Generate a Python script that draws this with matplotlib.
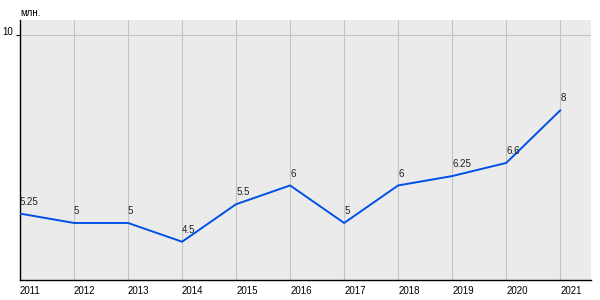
import matplotlib
matplotlib.use("Agg")
import matplotlib.pyplot as plt
import matplotlib.transforms as mtransforms

years = [2011, 2012, 2013, 2014, 2015, 2016, 2017, 2018, 2019, 2020, 2021]
values = [5.25, 5, 5, 4.5, 5.5, 6, 5, 6, 6.25, 6.6, 8]
ytick_vals = [10]
unit_label = "млн."

plt.rcParams['font.family'] = ['Liberation Sans', 'DejaVu Sans']

fig = plt.figure(figsize=(6, 3), dpi=100)
ax = fig.add_axes([20/600, 1 - 280/300, 571/600, 260/300])
ax.set_facecolor('#ebebeb')

ax.plot(years, values, color='#0050e6', lw=1.4, zorder=3)

ax.set_xlim(2011, 2021.57)
ax.set_ylim(3.48, 10.41)

ax.set_xticks(years)
ax.set_xticklabels([str(y) for y in years], fontsize=7, ha='left')
ax.tick_params(axis='x', length=0, pad=4)
ax.set_yticks(ytick_vals)
ax.set_yticklabels([str(v) for v in ytick_vals], fontsize=7, va='baseline')
ax.tick_params(axis='y', length=3, pad=2, color='black', width=0.8)

ax.grid(True, color='#c4c4c4', lw=0.8, zorder=1)
ax.set_axisbelow(True)

for s in ['top', 'right']:
    ax.spines[s].set_visible(False)
for s in ['left', 'bottom']:
    ax.spines[s].set_color('black')
    ax.spines[s].set_linewidth(1.0)

offset = mtransforms.offset_copy(ax.transData, fig=fig, x=0, y=5, units='points')
for x, v in zip(years, values):
    ax.text(x, v, '{:g}'.format(v), transform=offset, fontsize=7,
            ha='left', va='bottom', color='#222222', zorder=4)

fig.text(20/600, 1 - 16.5/300, unit_label, fontsize=7, ha='left', va='baseline')

fig.savefig('out.png', dpi=100)
